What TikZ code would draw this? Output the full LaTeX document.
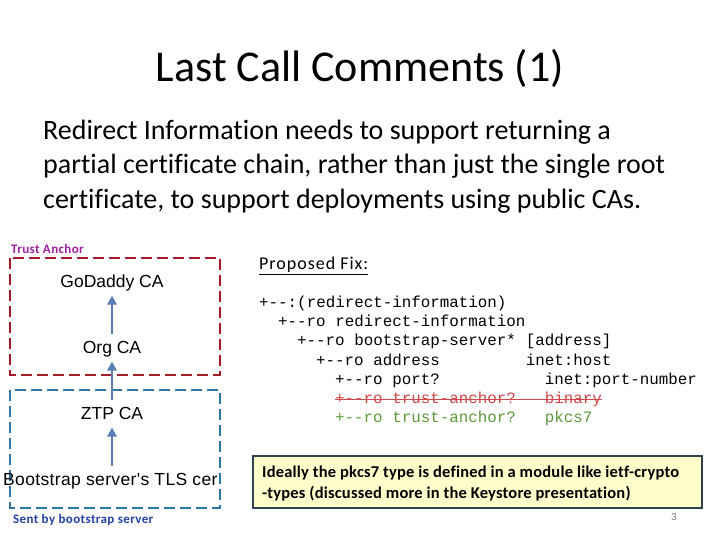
\documentclass[tikz,border=0pt]{standalone}
\usepackage{fontspec}
\setmainfont{Carlito}[Ligatures=NoCommon]
\setmonofont{Liberation Mono}
\newfontfamily\arialfont{Liberation Sans}
\newfontfamily\tlsfont{Liberation Sans}[LetterSpace=2]
\newfontfamily\notefont{Carlito}[Ligatures=NoCommon,LetterSpace=1.2]
\newfontfamily\fixfont{Carlito}[Ligatures=NoCommon,LetterSpace=5.5]
\newfontfamily\tagfont{Carlito}[Ligatures=NoCommon,LetterSpace=3]
\usetikzlibrary{calc}
\usetikzlibrary{arrows.meta}

\definecolor{anchorred}{HTML}{A31C2A}
\definecolor{sentblue}{HTML}{2E75A8}
\definecolor{arrowblue}{HTML}{5B7DB3}
\definecolor{anchorpurple}{HTML}{A020A0}
\definecolor{labelblue}{HTML}{2342A8}
\definecolor{codered}{HTML}{D04848}
\definecolor{codegreen}{HTML}{5E9A3C}
\definecolor{notefill}{HTML}{FFFFCC}
\definecolor{noteline}{HTML}{2F4050}

\begin{document}
\begin{tikzpicture}[x=1pt,y=-1pt,>={Triangle[width=9pt,length=9pt]}]
	\tikzset{cert/.style={inner sep=0pt,text height=12.6pt,text depth=0pt,font=\arialfont\fontsize{17.5}{21}\selectfont}}
	\tikzset{arr/.style={->,arrowblue,line width=2.8pt,shorten >=8pt,shorten <=7pt}}
	\tikzset{chainbox/.style={line width=2.8pt,dash pattern=on 11pt off 5pt}}
	\tikzset{body/.style={anchor=base west,inner sep=0pt,font=\fontsize{28}{34}\selectfont}}
	\tikzset{code/.style={anchor=base west,inner sep=0pt,font=\fontsize{15.85}{19}\selectfont\ttfamily}}
	\tikzset{note/.style={anchor=base west,inner sep=0pt,font=\notefont\bfseries\fontsize{16.5}{20}\selectfont}}
	\tikzset{tag/.style={anchor=base west,inner sep=0pt,font=\tagfont\bfseries\fontsize{13}{15}\selectfont}}
	\useasboundingbox[fill=white] (0,0) rectangle (720,540);
	% title and text
	\node[anchor=base] (title) at (360,82) {\fontsize{44}{52}\selectfont Last Call Comments (1)};
	\node[body] (l1) at (43,140) {Redirect Information needs to support returning a};
	\node[body] (l2) at (43,174) {partial certificate chain, rather than just the single root};
	\node[body] (l3) at (43,208) {certificate, to support deployments using public CAs.};
	% certificate chain
	\draw[chainbox,anchorred] (10,258) rectangle (220,375);
	\draw[chainbox,sentblue] (10,390) rectangle (220,508);
	\node[tag,text=anchorpurple] (trust) at (11,253) {Trust Anchor};
	\node[tag,text=labelblue] (sent) at (13,523) {Sent by bootstrap server};
	\node[cert] (godaddy) at (112,281) {GoDaddy CA};
	\node[cert] (org) at (112,347) {Org CA};
	\node[cert] (ztp) at (112,413) {ZTP CA};
	\node[cert,anchor=west,font=\tlsfont\fontsize{17.5}{21}\selectfont] (tls) at (3,479) {Bootstrap server's TLS cer};
	\draw[arr] (org) -- (godaddy);
	\draw[arr] (ztp) -- (org);
	\draw[arr] (tls.north -| ztp.south) -- (ztp);
	% proposed fix
	\node[anchor=base west,inner sep=0pt,font=\fixfont\fontsize{18}{22}\selectfont] (fix) at (259,269.5) {\underline{Proposed Fix:}};
	\node[code] (c1) at (259,307.5) {+--:(redirect-information)};
	\node[code] (c2) at (278,326.7) {+--ro redirect-information};
	\node[code] (c3) at (297,345.8) {+--ro bootstrap-server*};
	\node[code] (t3) at (525.6,345.8) {[address]};
	\node[code] (c4) at (316,365) {+--ro address};
	\node[code] (t4) at (525.6,365) {inet:host};
	\node[code] (c5) at (335,384.2) {+--ro port?};
	\node[code] (t5) at (544.6,384.2) {inet:port-number};
	\node[code,text=codered] (c6) at (335,403.4) {+--ro trust-anchor?};
	\node[code,text=codered] (t6) at (544.6,403.4) {binary};
	\node[code,text=codegreen] (c7) at (335,422.5) {+--ro trust-anchor?};
	\node[code,text=codegreen] (t7) at (544.6,422.5) {pkcs7};
	\draw[codered,line width=1pt] ($(c6.base west)+(0,-3.5)$) -- ($(t6.base east)+(0,-3.5)$);
	% note
	\draw[fill=notefill,draw=noteline,line width=2pt] (252.5,456) rectangle (702,508);
	\node[note] (n1) at (262,477) {Ideally the pkcs7 type is defined in a module like ietf-crypto};
	\node[note] (n2) at (262,498) {-types (discussed more in the Keystore presentation)};
	\node[anchor=base,inner sep=0pt,text=gray,font=\fontsize{11}{13}\selectfont] (page) at (674,520) {3};
\end{tikzpicture}
\end{document}
